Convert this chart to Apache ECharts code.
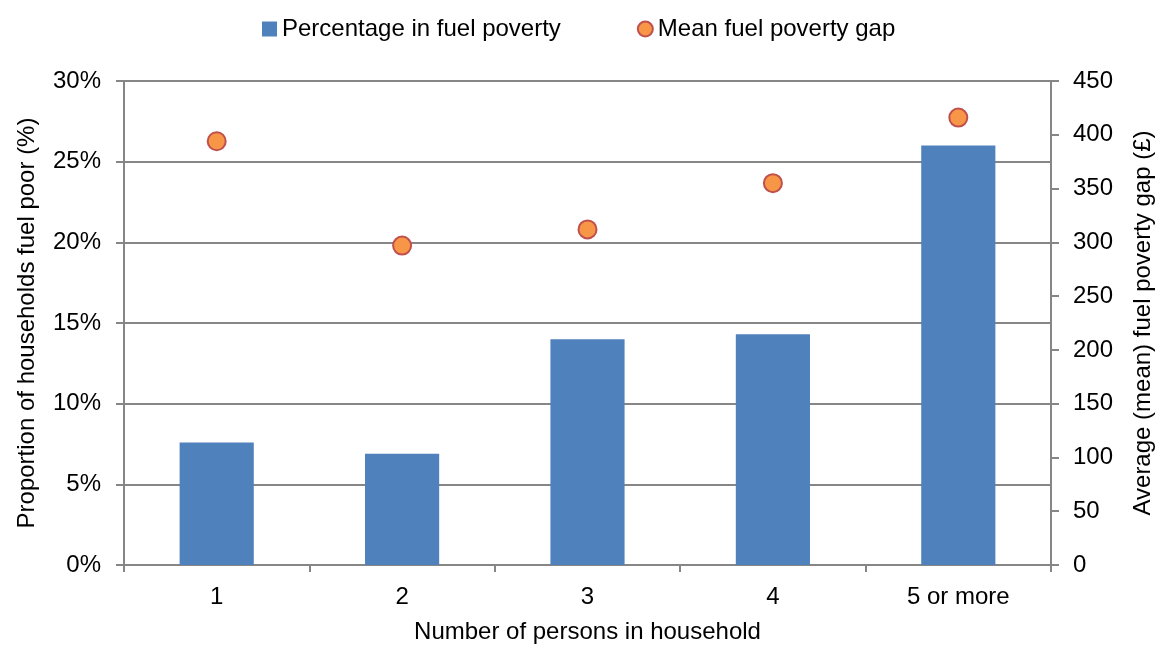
<!DOCTYPE html>
<html>
<head>
<meta charset="utf-8">
<script src="https://cdn.jsdelivr.net/npm/echarts@6/dist/echarts.min.js"></script>
<style>
html,body{margin:0;padding:0;background:#fff;}
#chart{width:1160px;height:648px;}
</style>
</head>
<body>
<div id="chart"></div>
<script>
var categories = ['1', '2', '3', '4', '5 or more'];
var percentFuelPoor = [7.6, 6.9, 14.0, 14.3, 26.0];
var meanGap = [394, 297, 312, 355, 416];
var leftTicks = {min: 0, max: 30, interval: 5};
var rightTicks = {min: 0, max: 450, interval: 50};

var font = 'Liberation Sans, Arial, sans-serif';
var fs = 24;
var axisGray = '#868686';
var chart = echarts.init(document.getElementById('chart'), null, {renderer: 'canvas'});
chart.setOption({
  animation: false,
  backgroundColor: '#ffffff',
  textStyle: {fontFamily: font},
  legend: {
    top: 12,
    left: 257,
    itemGap: 76,
    itemWidth: 15,
    itemHeight: 15,
    textStyle: {fontSize: fs, color: '#000', fontFamily: font},
    data: [
      {name: 'Percentage in fuel poverty', icon: 'rect'},
      {name: 'Mean fuel poverty gap', icon: 'circle'}
    ]
  },
  grid: {left: 124, right: 109, top: 81, bottom: 83, containLabel: false, outerBoundsMode: 'none'},
  xAxis: {
    type: 'category',
    data: categories,
    name: 'Number of persons in household',
    nameLocation: 'middle',
    nameGap: 55,
    nameTextStyle: {fontSize: fs, color: '#000', fontFamily: font},
    axisLine: {lineStyle: {color: axisGray, width: 2}},
    axisTick: {show: true, length: 7, lineStyle: {color: axisGray, width: 2}},
    axisLabel: {fontSize: fs, color: '#000', margin: 20, fontFamily: font}
  },
  yAxis: [
    {
      type: 'value',
      min: leftTicks.min, max: leftTicks.max, interval: leftTicks.interval,
      name: 'Proportion of households fuel poor (%)',
      nameLocation: 'middle',
      nameRotate: 90,
      nameGap: 85,
      nameTextStyle: {fontSize: fs, color: '#000', fontFamily: font},
      axisLine: {show: true, lineStyle: {color: axisGray, width: 2}},
      axisTick: {show: true, length: 8, lineStyle: {color: axisGray, width: 2}},
      axisLabel: {fontSize: fs, color: '#000', formatter: '{value}%', margin: 23, fontFamily: font},
      splitLine: {show: true, lineStyle: {color: axisGray, width: 2}}
    },
    {
      type: 'value',
      position: 'right',
      min: rightTicks.min, max: rightTicks.max, interval: rightTicks.interval,
      name: 'Average (mean) fuel poverty gap (£)',
      nameLocation: 'middle',
      nameRotate: 90,
      nameGap: 80,
      nameTextStyle: {fontSize: fs, color: '#000', fontFamily: font},
      axisLine: {show: true, lineStyle: {color: axisGray, width: 2}},
      axisTick: {show: true, length: 8, lineStyle: {color: axisGray, width: 2}},
      axisLabel: {fontSize: fs, color: '#000', margin: 22, fontFamily: font},
      splitLine: {show: false}
    }
  ],
  series: [
    {
      name: 'Percentage in fuel poverty',
      type: 'bar',
      yAxisIndex: 0,
      data: percentFuelPoor,
      barWidth: '40%',
      itemStyle: {color: '#4F81BD'}
    },
    {
      name: 'Mean fuel poverty gap',
      type: 'scatter',
      yAxisIndex: 1,
      data: meanGap,
      symbol: 'circle',
      symbolSize: 18,
      itemStyle: {color: '#F79646', borderColor: '#C0504D', borderWidth: 2, opacity: 1}
    }
  ]
});
</script>
</body>
</html>
